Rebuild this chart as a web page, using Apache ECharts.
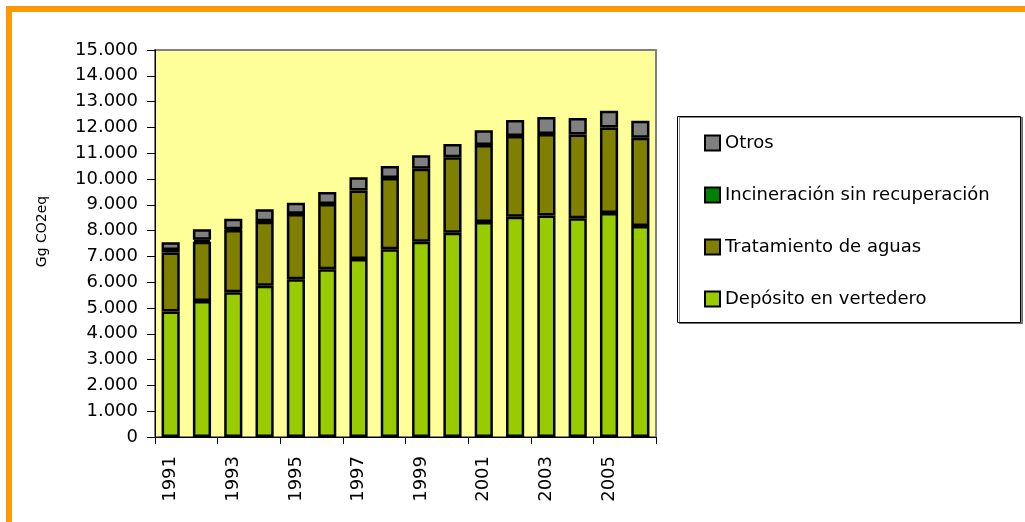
<!DOCTYPE html>
<html>
<head>
<meta charset="utf-8">
<script src="https://cdn.jsdelivr.net/npm/echarts@6/dist/echarts.min.js"></script>
<style>
  html, body { margin: 0; padding: 0; background: #fff; }
  #chart { width: 1025px; height: 522px; }
</style>
</head>
<body>
<div id="chart"></div>
<script>
// años (eje X)
const years = ['1991', '1992', '1993', '1994', '1995', '1996', '1997', '1998',
  '1999', '2000', '2001', '2002', '2003', '2004', '2005', '2006']

// emisiones por fuente, Gg CO2eq ('-' = sin dato)
const deposito = [4860, 5270, 5610, 5860, 6110, 6500, 6900, 7280, 7570, 7920, 8330, 8540, 8590, 8480, 8680, 8180]
const tratamiento = [2290, 2300, 2410, 2480, 2530, 2530, 2650, 2760, 2830, 2920, 2990, 3130, 3150, 3240, 3320, 3420]
const incineracion = [100, 80, 30, 20, 10, '-', '-', '-', '-', '-', '-', '-', '-', '-', '-', '-']
const otros = [300, 400, 410, 470, 430, 470, 520, 460, 520, 520, 570, 620, 660, 640, 650, 660]

const seriesNames = ['Depósito en vertedero', 'Tratamiento de aguas', 'Incineración sin recuperación', 'Otros']
const legendOrder = ['Otros', 'Incineración sin recuperación', 'Tratamiento de aguas', 'Depósito en vertedero']

const FONT = "'DejaVu Sans', sans-serif"

const chart = echarts.init(document.getElementById('chart'))

const barSeries = (name, data, color) => ({
  name,
  type: 'bar',
  stack: 'total',
  data,
  barWidth: '58%',
  itemStyle: { color, borderColor: '#000', borderWidth: 2.5 },
  emphasis: { disabled: true },
})

const option = {
  animation: false,
  backgroundColor: '#fff',
  graphic: [
    {
      type: 'rect',
      shape: { x: 9, y: 9, width: 1100, height: 600 },
      style: { fill: 'none', stroke: '#FF9900', lineWidth: 6 },
      silent: true,
    },
    {
      type: 'rect',
      shape: { x: 677.5, y: 116.5, width: 343, height: 206 },
      style: { fill: '#fff', stroke: '#000', lineWidth: 1, shadowColor: 'rgba(0,0,0,0.45)', shadowOffsetX: 2, shadowOffsetY: 1 },
      silent: true,
      z: -1,
    },
  ],
  grid: {
    left: 155,
    top: 50,
    right: 369,
    bottom: 85,
    show: true,
    backgroundColor: '#FFFF99',
    borderColor: '#808080',
    borderWidth: 2,
  },
  legend: {
    data: legendOrder,
    orient: 'vertical',
    left: 704,
    top: 133,
    padding: 0,
    itemGap: 32,
    itemWidth: 15,
    itemHeight: 15,
    icon: 'rect',
    itemStyle: { borderColor: '#000', borderWidth: 2 },
    textStyle: { fontFamily: FONT, fontSize: 18, color: '#000', lineHeight: 20 },
    selectedMode: false,
  },
  xAxis: {
    type: 'category',
    data: years,
    axisLine: { lineStyle: { color: '#000', width: 1 } },
    axisTick: { show: true, length: 7, lineStyle: { color: '#000' } },
    axisLabel: {
      interval: 1,
      rotate: 90,
      margin: 19,
      color: '#000',
      fontFamily: FONT,
      fontSize: 18,
    },
  },
  yAxis: {
    type: 'value',
    min: 0,
    max: 15000,
    interval: 1000,
    name: 'Gg CO2eq',
    nameLocation: 'middle',
    nameGap: 106,
    nameTextStyle: { fontFamily: FONT, fontSize: 14, color: '#000', padding: [0, 0, 0, 24] },
    axisLine: { show: true, lineStyle: { color: '#000', width: 1 } },
    axisTick: { show: true, length: 8, lineStyle: { color: '#000' } },
    splitLine: { show: false },
    axisLabel: {
      margin: 17,
      color: '#000',
      fontFamily: FONT,
      fontSize: 18,
      formatter: v => v === 0 ? '0' : String(v).replace(/\B(?=(\d{3})+(?!\d))/g, '.'),
    },
  },
  series: [
    barSeries(seriesNames[0], deposito, '#99CC00'),
    barSeries(seriesNames[1], tratamiento, '#808000'),
    barSeries(seriesNames[2], incineracion, '#008000'),
    barSeries(seriesNames[3], otros, '#808080'),
  ],
}

chart.setOption(option)
</script>
</body>
</html>
